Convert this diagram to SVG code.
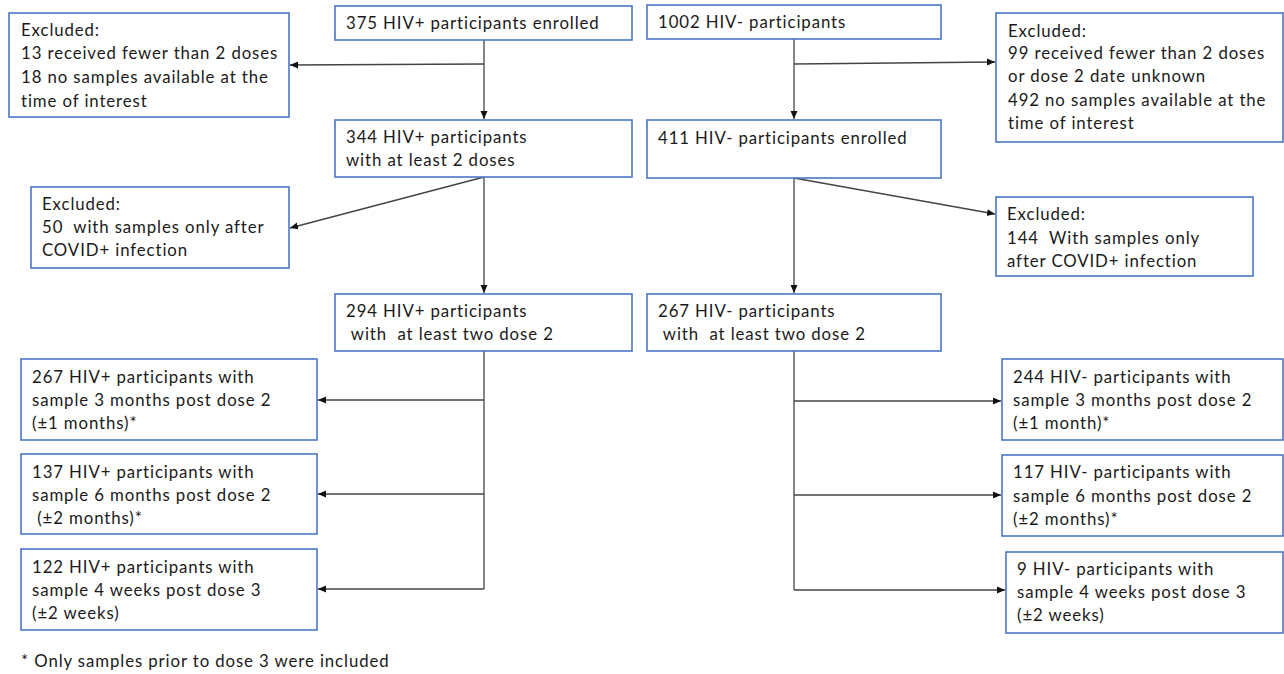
<svg xmlns="http://www.w3.org/2000/svg" width="1284" height="674" viewBox="0 0 1284 674">
<defs>
<marker id="ah" markerWidth="9" markerHeight="8" refX="8" refY="4" orient="auto" markerUnits="userSpaceOnUse">
<path d="M0,0.5 L8,4 L0,7.5 z" fill="#111"/>
</marker>
<style>
.box{fill:#fff;stroke:#4a76c6;stroke-width:1.6}
text{font-family:"Lato","Open Sans",sans-serif;font-size:16.8px;letter-spacing:0.9px;fill:#1a1a1a;white-space:pre}
.ln{fill:none;stroke:#444;stroke-width:1.3;marker-end:url(#ah)}
.pl{fill:none;stroke:#444;stroke-width:1.3}
</style>
</defs>
<rect width="1284" height="674" fill="#fff"/>

<g id="connectors">
<path class="ln" d="M484,40 V119"/>
<path class="ln" d="M484,64 L290,65"/>
<path class="ln" d="M794,39 V119"/>
<path class="ln" d="M794,64 L995,62"/>
<path class="ln" d="M484,177 V293"/>
<path class="ln" d="M484,177 L290,228"/>
<path class="ln" d="M794,178 V293"/>
<path class="ln" d="M794,178 L995,214"/>
<path class="pl" d="M484,351 V589"/>
<path class="ln" d="M484,400 H318"/>
<path class="ln" d="M484,494 H318"/>
<path class="ln" d="M484,589 H318"/>
<path class="pl" d="M794,351 V590"/>
<path class="ln" d="M794,401 H1001"/>
<path class="ln" d="M794,495 H1001"/>
<path class="ln" d="M794,590 H1005"/>
</g>

<g id="excl-tl">
<rect class="box" x="9" y="13" width="280" height="104"/>
<text x="21" y="36">Excluded:</text>
<text x="21" y="59">13 received fewer than 2 doses</text>
<text x="21" y="83">18 no samples available at the</text>
<text x="21" y="107">time of interest</text>
</g>

<g id="hivpos-enrolled">
<rect class="box" x="335" y="6" width="297" height="34"/>
<text x="346" y="29">375 HIV+ participants enrolled</text>
</g>

<g id="hivneg-all">
<rect class="box" x="647" y="5" width="294" height="34"/>
<text x="658" y="28">1002 HIV- participants</text>
</g>

<g id="excl-tr">
<rect class="box" x="996" y="13" width="287" height="129"/>
<text x="1008" y="37">Excluded:</text>
<text x="1008" y="59">99 received fewer than 2 doses</text>
<text x="1008" y="82">or dose 2 date unknown</text>
<text x="1008" y="106">492 no samples available at the</text>
<text x="1008" y="129">time of interest</text>
</g>

<g id="hivpos-2doses">
<rect class="box" x="335" y="120" width="297" height="57"/>
<text x="346" y="143">344 HIV+ participants</text>
<text x="346" y="166">with at least 2 doses</text>
</g>

<g id="hivneg-enrolled">
<rect class="box" x="647" y="120" width="294" height="58"/>
<text x="658" y="144">411 HIV- participants enrolled</text>
</g>

<g id="excl-ml">
<rect class="box" x="31" y="187" width="258" height="81"/>
<text x="42" y="210">Excluded:</text>
<text x="42" y="233" xml:space="preserve">50  with samples only after</text>
<text x="42" y="256">COVID+ infection</text>
</g>

<g id="excl-mr">
<rect class="box" x="996" y="197" width="257" height="79"/>
<text x="1007" y="220">Excluded:</text>
<text x="1007" y="244" xml:space="preserve">144  With samples only</text>
<text x="1007" y="267">after COVID+ infection</text>
</g>

<g id="hivpos-dose2">
<rect class="box" x="335" y="294" width="297" height="57"/>
<text x="346" y="317">294 HIV+ participants</text>
<text x="346" y="340" xml:space="preserve"> with  at least two dose 2</text>
</g>

<g id="hivneg-dose2">
<rect class="box" x="647" y="294" width="294" height="57"/>
<text x="658" y="317">267 HIV- participants</text>
<text x="658" y="340" xml:space="preserve"> with  at least two dose 2</text>
</g>

<g id="pos-3m">
<rect class="box" x="21" y="359" width="296" height="81"/>
<text x="32" y="383">267 HIV+ participants with</text>
<text x="32" y="406">sample 3 months post dose 2</text>
<text x="32" y="429">(±1 months)*</text>
</g>

<g id="pos-6m">
<rect class="box" x="21" y="454" width="296" height="80"/>
<text x="32" y="478">137 HIV+ participants with</text>
<text x="32" y="501">sample 6 months post dose 2</text>
<text x="32" y="524" xml:space="preserve"> (±2 months)*</text>
</g>

<g id="pos-d3">
<rect class="box" x="21" y="549" width="296" height="81"/>
<text x="32" y="573">122 HIV+ participants with</text>
<text x="32" y="596">sample 4 weeks post dose 3</text>
<text x="32" y="619">(±2 weeks)</text>
</g>

<g id="neg-3m">
<rect class="box" x="1002" y="359" width="281" height="81"/>
<text x="1013" y="383">244 HIV- participants with</text>
<text x="1013" y="406">sample 3 months post dose 2</text>
<text x="1013" y="429">(±1 month)*</text>
</g>

<g id="neg-6m">
<rect class="box" x="1002" y="455" width="281" height="81"/>
<text x="1013" y="478">117 HIV- participants with</text>
<text x="1013" y="502">sample 6 months post dose 2</text>
<text x="1013" y="525">(±2 months)*</text>
</g>

<g id="neg-d3">
<rect class="box" x="1006" y="552" width="277" height="81"/>
<text x="1017" y="575">9 HIV- participants with</text>
<text x="1017" y="598">sample 4 weeks post dose 3</text>
<text x="1017" y="621">(±2 weeks)</text>
</g>

<g id="footnote">
<text x="21" y="667">* Only samples prior to dose 3 were included</text>
</g>
</svg>
